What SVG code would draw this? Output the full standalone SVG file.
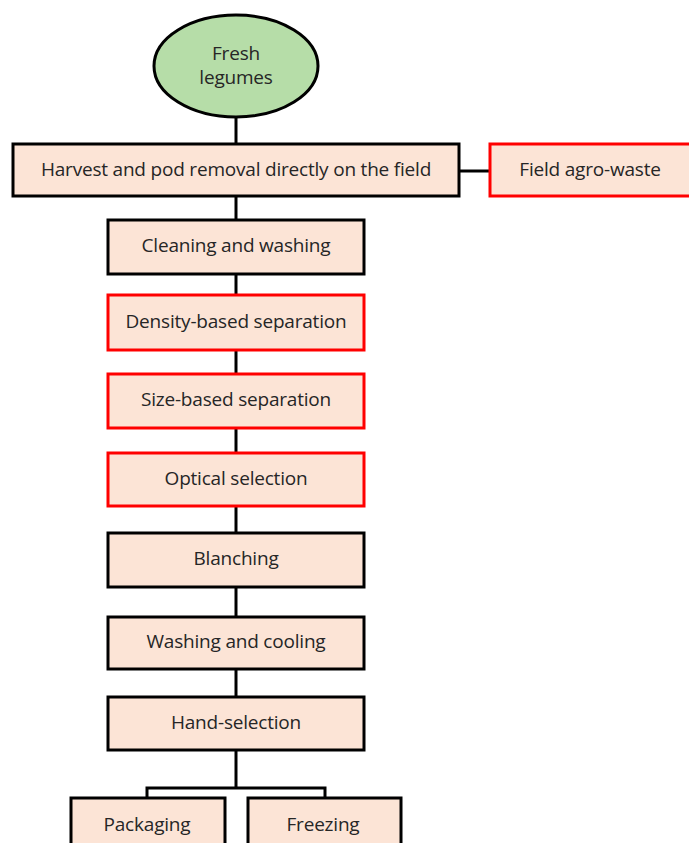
<svg xmlns="http://www.w3.org/2000/svg" width="689" height="843" viewBox="0 0 689 843">
<style>
.box{fill:#FCE4D6;stroke:#000;stroke-width:3}
.red{fill:#FCE4D6;stroke:#FF0000;stroke-width:3}
.ell{fill:#B6DDA8;stroke:#000;stroke-width:3}
.t{font-family:"Open Sans","Liberation Sans",sans-serif;font-size:19px;fill:#262626;text-anchor:middle;dominant-baseline:central;letter-spacing:-0.2px}
.c{stroke:#000;stroke-width:3;fill:none}
</style>
<rect width="689" height="843" fill="#fff"/>
<g id="connectors">
<line class="c" x1="236" y1="117" x2="236" y2="144"/>
<line class="c" x1="459" y1="171" x2="490" y2="171"/>
<line class="c" x1="236" y1="196" x2="236" y2="220"/>
<line class="c" x1="236" y1="274" x2="236" y2="295"/>
<line class="c" x1="236" y1="350" x2="236" y2="374"/>
<line class="c" x1="236" y1="428" x2="236" y2="453"/>
<line class="c" x1="236" y1="506" x2="236" y2="533"/>
<line class="c" x1="236" y1="587" x2="236" y2="617"/>
<line class="c" x1="236" y1="669" x2="236" y2="697"/>
<polyline class="c" points="236,750 236,788"/>
<polyline class="c" points="147,798 147,788 325,788 325,798"/>
</g>
<g id="fresh"><ellipse class="ell" cx="236" cy="66" rx="82" ry="51"/><text class="t" x="236" y="53">Fresh</text><text class="t" x="236" y="77">legumes</text></g>
<g id="harvest"><rect class="box" x="13" y="144" width="446" height="52"/><text class="t" x="236" y="169">Harvest and pod removal directly on the field</text></g>
<g id="agrowaste"><rect class="red" x="490" y="144" width="210" height="52"/><text class="t" x="590" y="169">Field agro-waste</text></g>
<g id="cleaning"><rect class="box" x="108" y="220" width="256" height="54"/><text class="t" x="236" y="245">Cleaning and washing</text></g>
<g id="density"><rect class="red" x="108" y="295" width="256" height="55"/><text class="t" x="236" y="321">Density-based separation</text></g>
<g id="size"><rect class="red" x="108" y="374" width="256" height="54"/><text class="t" x="236" y="399">Size-based separation</text></g>
<g id="optical"><rect class="red" x="108" y="453" width="256" height="53"/><text class="t" x="236" y="478">Optical selection</text></g>
<g id="blanching"><rect class="box" x="108" y="533" width="256" height="54"/><text class="t" x="236" y="558">Blanching</text></g>
<g id="washing"><rect class="box" x="108" y="617" width="256" height="52"/><text class="t" x="236" y="641">Washing and cooling</text></g>
<g id="hand"><rect class="box" x="108" y="697" width="256" height="53"/><text class="t" x="236" y="722">Hand-selection</text></g>
<g id="packaging"><rect class="box" x="71" y="798" width="154" height="60"/><text class="t" x="147" y="824">Packaging</text></g>
<g id="freezing"><rect class="box" x="248" y="798" width="153" height="60"/><text class="t" x="323" y="824">Freezing</text></g>
</svg>
